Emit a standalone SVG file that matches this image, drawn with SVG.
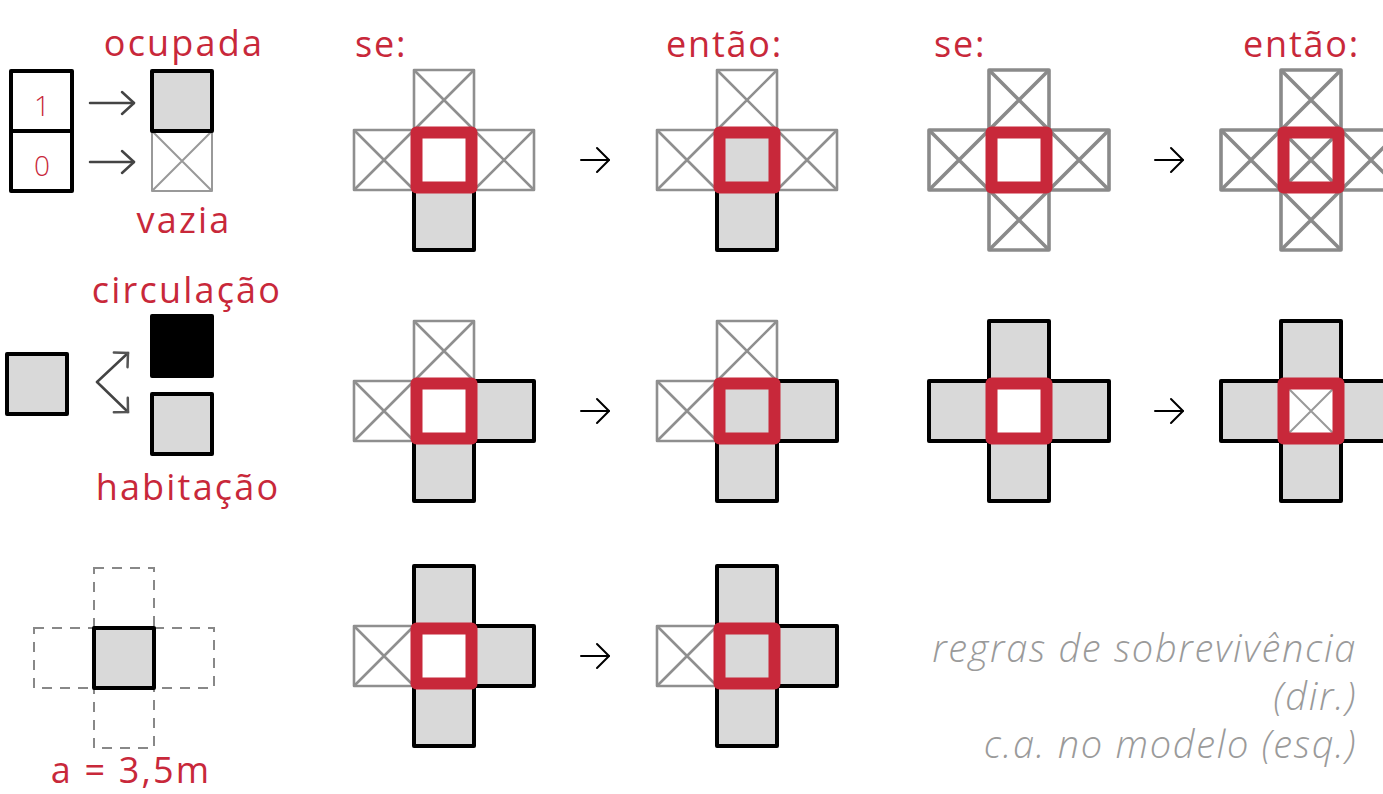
<svg xmlns="http://www.w3.org/2000/svg" xmlns:xlink="http://www.w3.org/1999/xlink" width="1383" height="794" viewBox="0 0 1383 794">
<style>
.lbl{font-family:"Open Sans","Noto Sans",sans-serif;font-weight:400;fill:#c8283a;font-size:36px;letter-spacing:2.2px}
.hd{font-family:"Open Sans","Noto Sans",sans-serif;font-weight:400;fill:#c8283a;font-size:36px;letter-spacing:1.8px}
.dig{font-family:"Open Sans","Noto Sans",sans-serif;font-weight:300;fill:#c8283a;font-size:28px;text-anchor:middle}
.note{font-family:"Open Sans","Noto Sans",sans-serif;font-weight:300;font-style:italic;fill:#9a9a9a;font-size:38px;letter-spacing:1.7px;text-anchor:end}
.xt{stroke:#8f8f8f;stroke-width:2.6}
.xb{stroke:#8a8a8a;stroke-width:3.6}
.xl{stroke:#999;stroke-width:2}
.fc{fill:#d9d9d9;stroke:#000;stroke-width:4;stroke-linejoin:round}
.red{stroke:#c8283a;stroke-width:12;stroke-linejoin:round}
.arr{stroke:#000;stroke-width:2;fill:none;stroke-linecap:round}
.arrg{stroke:#444;stroke-width:2.5;fill:none;stroke-linecap:round}
.dash{fill:none;stroke:#888;stroke-width:2;stroke-dasharray:10 8}
</style>
<defs>
<g id="x"><rect x="0" y="0" width="60" height="60" fill="#fff" stroke-linejoin="round"/><path d="M0 0 L60 60 M60 0 L0 60" fill="none"/></g>
<rect id="f" class="fc" x="0" y="0" width="60" height="60"/>
<marker id="hk" markerUnits="userSpaceOnUse" markerWidth="16" markerHeight="28" viewBox="0 0 16 28" refX="14" refY="14" orient="auto"><path d="M2 2 L14 14 L2 26" fill="none" stroke="#000" stroke-width="2" stroke-linecap="round" stroke-linejoin="round"/></marker>
<marker id="hg" markerUnits="userSpaceOnUse" markerWidth="16" markerHeight="28" viewBox="0 0 16 28" refX="14" refY="14" orient="auto"><path d="M2 3 L14 14 L2 25" fill="none" stroke="#444" stroke-width="2.5" stroke-linecap="round" stroke-linejoin="round"/></marker>
<marker id="hb" markerUnits="userSpaceOnUse" markerWidth="24" markerHeight="24" viewBox="0 0 24 24" refX="20" refY="12" orient="auto"><path d="M10 2 L20 12 L10 22" fill="none" stroke="#555" stroke-width="2.5" stroke-linecap="round" stroke-linejoin="miter"/></marker>
</defs>
<rect width="1383" height="794" fill="#fff"/>

<!-- legend row 1 -->
<g id="legend-bits">
<rect x="11" y="71" width="61" height="60" fill="#fff" stroke="#000" stroke-width="4" stroke-linejoin="round"/>
<rect x="11" y="131" width="61" height="60" fill="#fff" stroke="#000" stroke-width="4" stroke-linejoin="round"/>
<text class="dig" x="42" y="116">1</text>
<text class="dig" x="42" y="176">0</text>
</g>
<g id="legend-ocupada">
<use href="#x" x="152" y="131" class="xl"/>
<use href="#f" x="152" y="71"/>
<text class="lbl" x="184" y="56" text-anchor="middle">ocupada</text>
<text class="lbl" x="184" y="233" text-anchor="middle">vazia</text>
</g>
<!-- legend row 2 -->
<g id="legend-tipo">
<rect class="fc" x="7" y="354" width="60" height="60"/>
<rect x="152" y="316" width="60" height="60" fill="#000" stroke="#000" stroke-width="4" stroke-linejoin="round"/>
<rect class="fc" x="152" y="394" width="60" height="60"/>
<text class="lbl" x="187" y="303" text-anchor="middle">circulação</text>
<text class="lbl" x="188" y="500" text-anchor="middle">habitação</text>
</g>
<!-- legend row 3 -->
<g id="legend-dim">
<rect class="dash" x="94" y="568" width="60" height="60"/>
<rect class="dash" x="34" y="628" width="60" height="60"/>
<rect class="dash" x="154" y="628" width="60" height="60"/>
<rect class="dash" x="94" y="688" width="60" height="60"/>
<rect class="fc" x="94" y="628" width="60" height="60"/>
<text class="lbl" x="131" y="783" text-anchor="middle">a = 3,5m</text>
</g>

<!-- headings -->
<g id="headings">
<text class="hd" x="355" y="57">se:</text>
<text class="hd" x="666" y="57">então:</text>
<text class="hd" x="934" y="57">se:</text>
<text class="hd" x="1243" y="57">então:</text>
</g>

<!-- row 1 -->
<g id="r1c1">
<use href="#x" class="xt" x="414" y="70"/><use href="#x" class="xt" x="354" y="130"/><use href="#x" class="xt" x="474" y="130"/>
<use href="#f" x="414" y="190"/>
<rect class="red" x="416.5" y="132.5" width="55" height="55" fill="#fff"/>
</g>
<g id="r1c2">
<use href="#x" class="xt" x="717" y="70"/><use href="#x" class="xt" x="657" y="130"/><use href="#x" class="xt" x="777" y="130"/>
<use href="#f" x="717" y="190"/>
<rect class="red" x="719.5" y="132.5" width="55" height="55" fill="#d9d9d9"/>
</g>
<g id="r1c3">
<use href="#x" class="xb" x="989" y="70"/><use href="#x" class="xb" x="929" y="130"/><use href="#x" class="xb" x="1049" y="130"/><use href="#x" class="xb" x="989" y="190"/>
<rect class="red" x="991.5" y="132.5" width="55" height="55" fill="#fff"/>
</g>
<g id="r1c4">
<use href="#x" class="xb" x="1281" y="70"/><use href="#x" class="xb" x="1221" y="130"/><use href="#x" class="xb" x="1341" y="130"/><use href="#x" class="xb" x="1281" y="190"/>
<use href="#x" class="xb" x="1281" y="130"/>
<rect class="red" x="1283.5" y="132.5" width="55" height="55" fill="none"/>
</g>

<!-- row 2 -->
<g id="r2c1">
<use href="#x" class="xt" x="414" y="321"/><use href="#x" class="xt" x="354" y="381"/>
<use href="#f" x="474" y="381"/><use href="#f" x="414" y="441"/>
<rect class="red" x="416.5" y="383.5" width="55" height="55" fill="#fff"/>
</g>
<g id="r2c2">
<use href="#x" class="xt" x="717" y="321"/><use href="#x" class="xt" x="657" y="381"/>
<use href="#f" x="777" y="381"/><use href="#f" x="717" y="441"/>
<rect class="red" x="719.5" y="383.5" width="55" height="55" fill="#d9d9d9"/>
</g>
<g id="r2c3">
<use href="#f" x="989" y="321"/><use href="#f" x="929" y="381"/><use href="#f" x="1049" y="381"/><use href="#f" x="989" y="441"/>
<rect class="red" x="991.5" y="383.5" width="55" height="55" fill="#fff"/>
</g>
<g id="r2c4">
<use href="#f" x="1281" y="321"/><use href="#f" x="1221" y="381"/><use href="#f" x="1341" y="381"/><use href="#f" x="1281" y="441"/>
<use href="#x" class="xl" x="1281" y="381"/>
<rect class="red" x="1283.5" y="383.5" width="55" height="55" fill="none"/>
</g>

<!-- row 3 -->
<g id="r3c1">
<use href="#x" class="xt" x="354" y="626"/>
<use href="#f" x="414" y="566"/><use href="#f" x="474" y="626"/><use href="#f" x="414" y="686"/>
<rect class="red" x="416.5" y="628.5" width="55" height="55" fill="#fff"/>
</g>
<g id="r3c2">
<use href="#x" class="xt" x="657" y="626"/>
<use href="#f" x="717" y="566"/><use href="#f" x="777" y="626"/><use href="#f" x="717" y="686"/>
<rect class="red" x="719.5" y="628.5" width="55" height="55" fill="#d9d9d9"/>
</g>

<!-- connectors -->
<g id="connectors">
<path class="arrg" d="M90 103 H134" marker-end="url(#hg)"/>
<path class="arrg" d="M90 162 H134" marker-end="url(#hg)"/>
<path class="arrg" d="M97 382 L128 353" stroke="#555" marker-end="url(#hb)"/>
<path class="arrg" d="M97 382 L128 412" stroke="#555" marker-end="url(#hb)"/>
<path class="arr" d="M581 160 H609" marker-end="url(#hk)"/>
<path class="arr" d="M1155 160 H1183" marker-end="url(#hk)"/>
<path class="arr" d="M581 411 H609" marker-end="url(#hk)"/>
<path class="arr" d="M1155 411 H1183" marker-end="url(#hk)"/>
<path class="arr" d="M581 656 H609" marker-end="url(#hk)"/>
</g>

<g id="caption">
<text class="note" x="1357" y="662">regras de sobrevivência</text>
<text class="note" x="1357" y="710">(dir.)</text>
<text class="note" x="1357" y="758">c.a. no modelo (esq.)</text>
</g>
</svg>
